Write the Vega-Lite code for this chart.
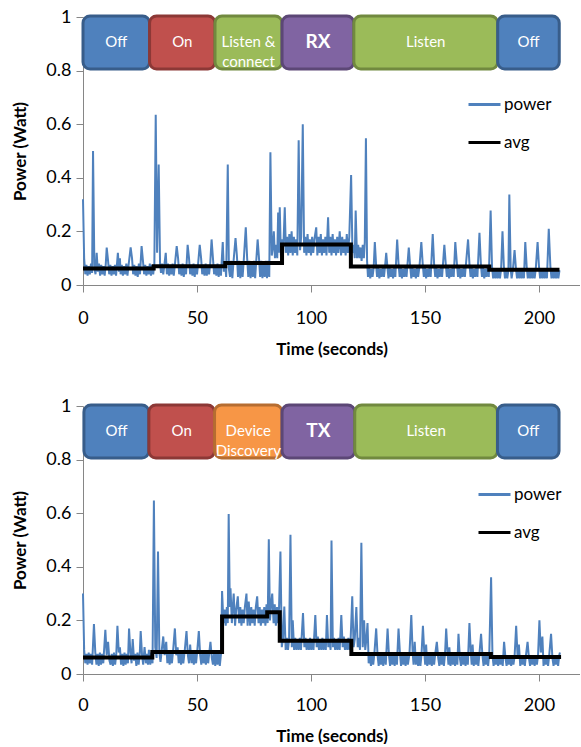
{
  "$schema": "https://vega.github.io/schema/vega-lite/v6.json",
  "padding": {"left": 11, "top": 8, "right": 0, "bottom": 0},
  "spacing": 40,
  "resolve": {"scale": {"color": "independent"}, "legend": {"color": "independent"}},
  "config": {
    "view": {"stroke": null},
    "font": "Lato",
    "axis": {"domainColor": "#868686", "tickColor": "#868686", "tickSize": 7, "labelFont": "Lato", "labelFontSize": 18, "labelColor": "#000000", "titleFont": "Lato", "titleFontSize": 17, "titleFontWeight": "bold", "titleColor": "#000000", "grid": false, "labelFlush": false}
  },
  "datasets": {
    "slave_power": [
      {"t":0,"p":0.32},{"t":0.5,"p":0.1},{"t":1,"p":0.04},{"t":1.5,"p":0.075},{"t":2,"p":0.035},{"t":2.5,"p":0.07},{"t":3,"p":0.04},{"t":3.5,"p":0.08},{"t":4,"p":0.045},{"t":4.4,"p":0.5},{"t":5,"p":0.06},{"t":5.5,"p":0.04},{"t":6,"p":0.12},{"t":6.5,"p":0.05},{"t":7,"p":0.08},{"t":7.5,"p":0.035},{"t":8,"p":0.075},{"t":8.5,"p":0.04},{"t":9,"p":0.07},{"t":9.5,"p":0.035},{"t":10,"p":0.08},{"t":10.4,"p":0.14},{"t":11,"p":0.09},{"t":11.5,"p":0.04},{"t":12,"p":0.075},{"t":12.5,"p":0.035},{"t":13,"p":0.07},{"t":13.5,"p":0.04},{"t":14,"p":0.075},{"t":14.5,"p":0.035},{"t":15.3,"p":0.12},{"t":15.8,"p":0.05},{"t":16.2,"p":0.1},{"t":16.5,"p":0.04},{"t":17,"p":0.075},{"t":17.5,"p":0.035},{"t":18,"p":0.07},{"t":18.5,"p":0.04},{"t":19,"p":0.08},{"t":19.5,"p":0.035},{"t":20,"p":0.075},{"t":20.9,"p":0.14},{"t":21.5,"p":0.1},{"t":22,"p":0.04},{"t":22.5,"p":0.075},{"t":23,"p":0.035},{"t":23.5,"p":0.07},{"t":24,"p":0.03},{"t":24.5,"p":0.08},{"t":25,"p":0.04},{"t":25.7,"p":0.145},{"t":26.3,"p":0.09},{"t":26.8,"p":0.04},{"t":27.3,"p":0.075},{"t":27.8,"p":0.035},{"t":28.3,"p":0.07},{"t":28.8,"p":0.04},{"t":29.3,"p":0.08},{"t":29.8,"p":0.035},{"t":30.3,"p":0.075},{"t":30.8,"p":0.04},{"t":31.3,"p":0.08},{"t":31.9,"p":0.635},{"t":32.5,"p":0.12},{"t":33.2,"p":0.45},{"t":33.8,"p":0.08},{"t":34.2,"p":0.045},{"t":34.7,"p":0.08},{"t":35.2,"p":0.04},{"t":35.7,"p":0.075},{"t":36.3,"p":0.12},{"t":36.8,"p":0.04},{"t":37.3,"p":0.08},{"t":37.8,"p":0.035},{"t":38.3,"p":0.075},{"t":38.8,"p":0.04},{"t":39.3,"p":0.08},{"t":39.8,"p":0.035},{"t":40.3,"p":0.075},{"t":41.1,"p":0.145},{"t":41.7,"p":0.1},{"t":42.2,"p":0.04},{"t":42.7,"p":0.075},{"t":43.2,"p":0.035},{"t":43.7,"p":0.08},{"t":44.2,"p":0.03},{"t":44.7,"p":0.075},{"t":45.2,"p":0.04},{"t":45.9,"p":0.15},{"t":46.5,"p":0.1},{"t":47,"p":0.04},{"t":47.5,"p":0.075},{"t":48,"p":0.035},{"t":48.5,"p":0.08},{"t":49,"p":0.03},{"t":49.5,"p":0.075},{"t":50,"p":0.04},{"t":50.5,"p":0.08},{"t":51.2,"p":0.15},{"t":51.8,"p":0.1},{"t":52.3,"p":0.04},{"t":52.8,"p":0.075},{"t":53.3,"p":0.035},{"t":53.8,"p":0.08},{"t":54.3,"p":0.035},{"t":54.8,"p":0.075},{"t":55.3,"p":0.04},{"t":55.8,"p":0.08},{"t":56.4,"p":0.17},{"t":57,"p":0.1},{"t":57.5,"p":0.04},{"t":58,"p":0.075},{"t":58.5,"p":0.035},{"t":59,"p":0.08},{"t":59.5,"p":0.03},{"t":60,"p":0.075},{"t":60.5,"p":0.035},{"t":61.3,"p":0.16},{"t":61.8,"p":0.05},{"t":62.3,"p":0.085},{"t":62.8,"p":0.03},{"t":63.5,"p":0.45},{"t":64,"p":0.06},{"t":64.5,"p":0.03},{"t":65,"p":0.09},{"t":65.5,"p":0.025},{"t":66,"p":0.085},{"t":66.9,"p":0.175},{"t":67.5,"p":0.11},{"t":68,"p":0.03},{"t":68.5,"p":0.09},{"t":69,"p":0.025},{"t":69.5,"p":0.085},{"t":70,"p":0.03},{"t":70.5,"p":0.09},{"t":71.4,"p":0.215},{"t":72,"p":0.1},{"t":72.5,"p":0.03},{"t":73,"p":0.09},{"t":73.5,"p":0.025},{"t":74,"p":0.085},{"t":74.5,"p":0.03},{"t":75,"p":0.09},{"t":75.5,"p":0.025},{"t":76.6,"p":0.17},{"t":77.2,"p":0.1},{"t":77.7,"p":0.03},{"t":78.2,"p":0.09},{"t":78.7,"p":0.025},{"t":79.2,"p":0.085},{"t":79.7,"p":0.03},{"t":80.2,"p":0.09},{"t":80.7,"p":0.025},{"t":81.2,"p":0.09},{"t":81.7,"p":0.03},{"t":82.2,"p":0.495},{"t":82.8,"p":0.11},{"t":83.3,"p":0.14},{"t":83.7,"p":0.2},{"t":84.2,"p":0.1},{"t":84.7,"p":0.15},{"t":85.2,"p":0.1},{"t":85.6,"p":0.27},{"t":86,"p":0.12},{"t":86.3,"p":0.29},{"t":86.8,"p":0.11},{"t":87.3,"p":0.17},{"t":87.8,"p":0.12},{"t":88.5,"p":0.29},{"t":89,"p":0.12},{"t":89.5,"p":0.18},{"t":90,"p":0.11},{"t":90.5,"p":0.19},{"t":91,"p":0.12},{"t":91.5,"p":0.2},{"t":92,"p":0.11},{"t":92.5,"p":0.18},{"t":93,"p":0.12},{"t":93.5,"p":0.17},{"t":94,"p":0.11},{"t":94.6,"p":0.54},{"t":95.2,"p":0.13},{"t":95.7,"p":0.18},{"t":96.4,"p":0.6},{"t":97,"p":0.12},{"t":97.5,"p":0.18},{"t":98,"p":0.11},{"t":98.5,"p":0.19},{"t":99,"p":0.12},{"t":99.5,"p":0.17},{"t":100,"p":0.11},{"t":100.5,"p":0.18},{"t":101,"p":0.12},{"t":101.5,"p":0.17},{"t":102.3,"p":0.215},{"t":102.8,"p":0.11},{"t":103.3,"p":0.18},{"t":103.8,"p":0.12},{"t":104.3,"p":0.19},{"t":104.8,"p":0.11},{"t":105.3,"p":0.17},{"t":105.8,"p":0.12},{"t":106.3,"p":0.18},{"t":106.8,"p":0.11},{"t":107.5,"p":0.253},{"t":108,"p":0.12},{"t":108.5,"p":0.18},{"t":109,"p":0.11},{"t":109.5,"p":0.19},{"t":110,"p":0.12},{"t":110.5,"p":0.17},{"t":111,"p":0.11},{"t":111.5,"p":0.18},{"t":112,"p":0.12},{"t":112.6,"p":0.2},{"t":113.2,"p":0.11},{"t":113.7,"p":0.18},{"t":114.2,"p":0.12},{"t":114.7,"p":0.17},{"t":115.2,"p":0.11},{"t":115.7,"p":0.19},{"t":116.2,"p":0.12},{"t":116.8,"p":0.18},{"t":117.6,"p":0.41},{"t":118.2,"p":0.12},{"t":118.7,"p":0.15},{"t":119.2,"p":0.1},{"t":119.6,"p":0.278},{"t":120.2,"p":0.1},{"t":120.7,"p":0.15},{"t":121.2,"p":0.1},{"t":121.7,"p":0.14},{"t":122.2,"p":0.09},{"t":122.7,"p":0.15},{"t":123.2,"p":0.1},{"t":123.6,"p":0.16},{"t":124.1,"p":0.548},{"t":124.6,"p":0.09},{"t":125,"p":0.03},{"t":125.5,"p":0.065},{"t":126,"p":0.025},{"t":126.5,"p":0.06},{"t":127,"p":0.03},{"t":127.5,"p":0.065},{"t":128,"p":0.16},{"t":128.6,"p":0.07},{"t":129,"p":0.03},{"t":129.5,"p":0.065},{"t":130,"p":0.025},{"t":130.5,"p":0.06},{"t":131,"p":0.03},{"t":131.5,"p":0.065},{"t":132,"p":0.03},{"t":132.5,"p":0.07},{"t":133,"p":0.12},{"t":133.6,"p":0.06},{"t":134,"p":0.025},{"t":134.5,"p":0.065},{"t":135,"p":0.03},{"t":135.5,"p":0.06},{"t":136,"p":0.025},{"t":136.5,"p":0.065},{"t":137,"p":0.03},{"t":137.8,"p":0.17},{"t":138.4,"p":0.08},{"t":138.9,"p":0.03},{"t":139.4,"p":0.065},{"t":139.9,"p":0.025},{"t":140.4,"p":0.06},{"t":140.9,"p":0.03},{"t":141.4,"p":0.065},{"t":141.9,"p":0.03},{"t":142.9,"p":0.14},{"t":143.5,"p":0.07},{"t":144,"p":0.025},{"t":144.5,"p":0.065},{"t":145,"p":0.03},{"t":145.5,"p":0.06},{"t":146,"p":0.025},{"t":146.5,"p":0.065},{"t":147,"p":0.03},{"t":147.6,"p":0.07},{"t":148.4,"p":0.16},{"t":149,"p":0.08},{"t":149.5,"p":0.03},{"t":150,"p":0.065},{"t":150.5,"p":0.025},{"t":151,"p":0.06},{"t":151.5,"p":0.03},{"t":152,"p":0.065},{"t":152.5,"p":0.03},{"t":153.4,"p":0.19},{"t":154,"p":0.08},{"t":154.5,"p":0.03},{"t":155,"p":0.065},{"t":155.5,"p":0.025},{"t":156,"p":0.06},{"t":156.5,"p":0.03},{"t":157,"p":0.065},{"t":157.5,"p":0.03},{"t":158.5,"p":0.15},{"t":159.1,"p":0.08},{"t":159.6,"p":0.03},{"t":160.1,"p":0.065},{"t":160.6,"p":0.025},{"t":161.1,"p":0.06},{"t":161.6,"p":0.03},{"t":162.1,"p":0.065},{"t":162.6,"p":0.03},{"t":163.3,"p":0.16},{"t":164,"p":0.08},{"t":164.5,"p":0.03},{"t":165,"p":0.065},{"t":165.5,"p":0.025},{"t":166,"p":0.06},{"t":166.5,"p":0.03},{"t":167,"p":0.065},{"t":167.5,"p":0.03},{"t":168.9,"p":0.17},{"t":169.5,"p":0.08},{"t":170,"p":0.03},{"t":170.5,"p":0.065},{"t":171,"p":0.025},{"t":171.5,"p":0.06},{"t":172,"p":0.03},{"t":172.5,"p":0.065},{"t":173,"p":0.03},{"t":173.9,"p":0.195},{"t":174.5,"p":0.08},{"t":175,"p":0.03},{"t":175.5,"p":0.065},{"t":176,"p":0.025},{"t":176.5,"p":0.06},{"t":177,"p":0.03},{"t":177.5,"p":0.065},{"t":178,"p":0.03},{"t":178.8,"p":0.278},{"t":179.4,"p":0.07},{"t":179.9,"p":0.025},{"t":180.4,"p":0.06},{"t":180.9,"p":0.025},{"t":181.4,"p":0.055},{"t":181.9,"p":0.025},{"t":182.4,"p":0.06},{"t":182.9,"p":0.025},{"t":183.4,"p":0.06},{"t":184,"p":0.2},{"t":184.6,"p":0.07},{"t":185.1,"p":0.025},{"t":185.6,"p":0.06},{"t":186.1,"p":0.025},{"t":186.6,"p":0.055},{"t":187,"p":0.338},{"t":187.6,"p":0.06},{"t":188,"p":0.025},{"t":188.6,"p":0.06},{"t":189.3,"p":0.13},{"t":189.9,"p":0.06},{"t":190.4,"p":0.025},{"t":190.9,"p":0.06},{"t":191.4,"p":0.025},{"t":191.9,"p":0.055},{"t":192.4,"p":0.025},{"t":192.9,"p":0.06},{"t":193.4,"p":0.025},{"t":194,"p":0.16},{"t":194.6,"p":0.07},{"t":195.1,"p":0.025},{"t":195.6,"p":0.06},{"t":196.1,"p":0.025},{"t":196.6,"p":0.055},{"t":197.1,"p":0.025},{"t":197.6,"p":0.06},{"t":198.1,"p":0.025},{"t":198.6,"p":0.06},{"t":199.4,"p":0.16},{"t":200,"p":0.07},{"t":200.5,"p":0.025},{"t":201,"p":0.06},{"t":201.5,"p":0.025},{"t":202,"p":0.055},{"t":202.5,"p":0.025},{"t":203,"p":0.06},{"t":203.5,"p":0.025},{"t":204.3,"p":0.21},{"t":205,"p":0.07},{"t":205.5,"p":0.025},{"t":206,"p":0.06},{"t":206.5,"p":0.025},{"t":207,"p":0.055},{"t":207.5,"p":0.025},{"t":208,"p":0.06},{"t":208.5,"p":0.025},{"t":209,"p":0.055}
    ],
    "slave_avg": [
      {"t":0,"a":0.062},{"t":31,"a":0.07},{"t":62.4,"a":0.082},{"t":87.3,"a":0.151},{"t":117.5,"a":0.069},{"t":178.2,"a":0.057},{"t":209,"a":0.057}
    ],
    "slave_states": [
      {"a":0,"b":29.2,"state":"Off","label":"Off"},
      {"a":29.2,"b":57.9,"state":"On","label":"On"},
      {"a":57.9,"b":87.3,"state":"Listen","label":"Listen &\nconnect"},
      {"a":87.3,"b":118.8,"state":"RX","label":"RX"},
      {"a":118.8,"b":181.9,"state":"Listen","label":"Listen"},
      {"a":181.9,"b":208.9,"state":"Off","label":"Off"}
    ],
    "master_power": [
      {"t":0,"p":0.3},{"t":0.5,"p":0.09},{"t":1,"p":0.04},{"t":1.5,"p":0.075},{"t":2,"p":0.035},{"t":2.5,"p":0.08},{"t":3,"p":0.04},{"t":3.5,"p":0.075},{"t":4,"p":0.035},{"t":4.8,"p":0.186},{"t":5.4,"p":0.08},{"t":5.9,"p":0.035},{"t":6.4,"p":0.075},{"t":6.9,"p":0.03},{"t":7.4,"p":0.08},{"t":7.9,"p":0.035},{"t":8.4,"p":0.075},{"t":8.9,"p":0.04},{"t":9.8,"p":0.165},{"t":10.4,"p":0.07},{"t":11,"p":0.12},{"t":11.6,"p":0.05},{"t":12.1,"p":0.035},{"t":12.6,"p":0.075},{"t":13.1,"p":0.03},{"t":13.6,"p":0.08},{"t":14.1,"p":0.035},{"t":14.6,"p":0.075},{"t":15.1,"p":0.18},{"t":15.7,"p":0.08},{"t":16.2,"p":0.1},{"t":16.7,"p":0.035},{"t":17.2,"p":0.075},{"t":17.7,"p":0.03},{"t":18.2,"p":0.08},{"t":18.7,"p":0.035},{"t":19.2,"p":0.075},{"t":19.7,"p":0.04},{"t":20.2,"p":0.17},{"t":20.8,"p":0.08},{"t":21.3,"p":0.04},{"t":21.8,"p":0.13},{"t":22.4,"p":0.05},{"t":22.9,"p":0.075},{"t":23.4,"p":0.03},{"t":23.9,"p":0.08},{"t":24.4,"p":0.035},{"t":24.9,"p":0.075},{"t":25.3,"p":0.16},{"t":25.9,"p":0.07},{"t":26.4,"p":0.035},{"t":27,"p":0.1},{"t":27.6,"p":0.04},{"t":28.1,"p":0.075},{"t":28.5,"p":0.035},{"t":28.9,"p":0.09},{"t":29.5,"p":0.035},{"t":30,"p":0.08},{"t":30.5,"p":0.04},{"t":31.1,"p":0.647},{"t":31.7,"p":0.1},{"t":32.3,"p":0.06},{"t":32.9,"p":0.457},{"t":33.5,"p":0.08},{"t":34,"p":0.045},{"t":34.5,"p":0.085},{"t":35.2,"p":0.14},{"t":35.8,"p":0.07},{"t":36.5,"p":0.12},{"t":37,"p":0.04},{"t":37.5,"p":0.085},{"t":38,"p":0.035},{"t":38.5,"p":0.08},{"t":39,"p":0.04},{"t":39.5,"p":0.085},{"t":40.3,"p":0.17},{"t":40.9,"p":0.07},{"t":41.5,"p":0.1},{"t":42,"p":0.04},{"t":42.5,"p":0.085},{"t":43,"p":0.035},{"t":43.5,"p":0.08},{"t":44,"p":0.04},{"t":44.6,"p":0.085},{"t":45.4,"p":0.16},{"t":46,"p":0.07},{"t":46.5,"p":0.04},{"t":47,"p":0.11},{"t":47.6,"p":0.04},{"t":48.1,"p":0.085},{"t":48.6,"p":0.035},{"t":49.1,"p":0.08},{"t":49.6,"p":0.04},{"t":50.1,"p":0.085},{"t":50.8,"p":0.16},{"t":51.4,"p":0.07},{"t":51.9,"p":0.035},{"t":52.4,"p":0.085},{"t":52.9,"p":0.04},{"t":53.4,"p":0.08},{"t":53.9,"p":0.035},{"t":54.4,"p":0.085},{"t":54.9,"p":0.04},{"t":55.9,"p":0.12},{"t":56.5,"p":0.06},{"t":57,"p":0.035},{"t":57.5,"p":0.085},{"t":58,"p":0.03},{"t":58.5,"p":0.08},{"t":59,"p":0.035},{"t":59.5,"p":0.085},{"t":60,"p":0.03},{"t":60.6,"p":0.08},{"t":61,"p":0.31},{"t":61.6,"p":0.19},{"t":62.1,"p":0.24},{"t":62.6,"p":0.18},{"t":63.1,"p":0.25},{"t":63.5,"p":0.19},{"t":63.9,"p":0.597},{"t":64.4,"p":0.25},{"t":64.7,"p":0.32},{"t":65.3,"p":0.19},{"t":65.7,"p":0.25},{"t":66.1,"p":0.3},{"t":66.7,"p":0.18},{"t":67.2,"p":0.24},{"t":67.9,"p":0.29},{"t":68.5,"p":0.19},{"t":69,"p":0.25},{"t":69.5,"p":0.18},{"t":70,"p":0.24},{"t":70.5,"p":0.19},{"t":71,"p":0.25},{"t":71.7,"p":0.3},{"t":72.2,"p":0.18},{"t":72.7,"p":0.27},{"t":73.3,"p":0.18},{"t":73.8,"p":0.25},{"t":74.3,"p":0.19},{"t":74.8,"p":0.24},{"t":75.3,"p":0.18},{"t":75.8,"p":0.25},{"t":76.4,"p":0.29},{"t":77,"p":0.19},{"t":77.5,"p":0.25},{"t":78,"p":0.18},{"t":78.5,"p":0.24},{"t":79,"p":0.19},{"t":79.5,"p":0.25},{"t":80,"p":0.18},{"t":80.5,"p":0.26},{"t":81,"p":0.19},{"t":81.5,"p":0.503},{"t":82,"p":0.2},{"t":82.5,"p":0.26},{"t":83,"p":0.3},{"t":83.6,"p":0.19},{"t":84.1,"p":0.26},{"t":84.6,"p":0.18},{"t":85.1,"p":0.25},{"t":85.6,"p":0.19},{"t":86,"p":0.25},{"t":86.6,"p":0.457},{"t":87.2,"p":0.1},{"t":87.7,"p":0.13},{"t":88.3,"p":0.252},{"t":88.9,"p":0.09},{"t":89.4,"p":0.135},{"t":89.9,"p":0.09},{"t":90.4,"p":0.13},{"t":91,"p":0.52},{"t":91.6,"p":0.1},{"t":92,"p":0.2},{"t":92.6,"p":0.09},{"t":93.1,"p":0.135},{"t":93.6,"p":0.09},{"t":94.1,"p":0.13},{"t":94.6,"p":0.09},{"t":95.1,"p":0.135},{"t":95.6,"p":0.09},{"t":96.5,"p":0.227},{"t":97.1,"p":0.1},{"t":97.6,"p":0.135},{"t":98.1,"p":0.09},{"t":98.6,"p":0.13},{"t":99.1,"p":0.09},{"t":99.6,"p":0.135},{"t":100.1,"p":0.09},{"t":100.6,"p":0.13},{"t":101.1,"p":0.09},{"t":101.9,"p":0.22},{"t":102.5,"p":0.1},{"t":103,"p":0.14},{"t":103.5,"p":0.09},{"t":104,"p":0.13},{"t":104.5,"p":0.09},{"t":105,"p":0.135},{"t":105.5,"p":0.09},{"t":106,"p":0.13},{"t":106.5,"p":0.09},{"t":107,"p":0.22},{"t":107.6,"p":0.1},{"t":108.1,"p":0.13},{"t":108.6,"p":0.09},{"t":109,"p":0.498},{"t":109.6,"p":0.1},{"t":110.1,"p":0.135},{"t":110.6,"p":0.09},{"t":111.1,"p":0.13},{"t":111.6,"p":0.09},{"t":112.1,"p":0.135},{"t":112.6,"p":0.09},{"t":113.3,"p":0.22},{"t":113.9,"p":0.1},{"t":114.4,"p":0.14},{"t":114.9,"p":0.09},{"t":115.4,"p":0.13},{"t":115.9,"p":0.09},{"t":116.4,"p":0.135},{"t":116.9,"p":0.09},{"t":117.4,"p":0.13},{"t":118.1,"p":0.29},{"t":118.7,"p":0.1},{"t":119.2,"p":0.13},{"t":119.9,"p":0.25},{"t":120.5,"p":0.1},{"t":121,"p":0.135},{"t":121.5,"p":0.09},{"t":122.1,"p":0.49},{"t":122.7,"p":0.1},{"t":123.3,"p":0.2},{"t":123.8,"p":0.09},{"t":124.3,"p":0.13},{"t":124.8,"p":0.19},{"t":125.3,"p":0.04},{"t":125.8,"p":0.075},{"t":126.3,"p":0.03},{"t":126.8,"p":0.07},{"t":127.3,"p":0.035},{"t":127.8,"p":0.075},{"t":128.6,"p":0.17},{"t":129.2,"p":0.07},{"t":129.7,"p":0.03},{"t":130.2,"p":0.075},{"t":130.7,"p":0.035},{"t":131.2,"p":0.07},{"t":131.7,"p":0.03},{"t":132.2,"p":0.075},{"t":132.8,"p":0.035},{"t":133.6,"p":0.17},{"t":134.2,"p":0.07},{"t":134.7,"p":0.03},{"t":135.2,"p":0.075},{"t":135.7,"p":0.035},{"t":136.2,"p":0.07},{"t":136.7,"p":0.03},{"t":137.2,"p":0.075},{"t":137.7,"p":0.035},{"t":138.4,"p":0.17},{"t":139,"p":0.08},{"t":139.5,"p":0.03},{"t":140,"p":0.075},{"t":140.5,"p":0.035},{"t":141,"p":0.07},{"t":141.5,"p":0.03},{"t":142,"p":0.075},{"t":142.5,"p":0.035},{"t":143.2,"p":0.075},{"t":144,"p":0.22},{"t":144.6,"p":0.08},{"t":145,"p":0.035},{"t":145.5,"p":0.12},{"t":146,"p":0.035},{"t":146.5,"p":0.075},{"t":147,"p":0.03},{"t":147.5,"p":0.07},{"t":148,"p":0.03},{"t":148.5,"p":0.075},{"t":149.1,"p":0.18},{"t":149.7,"p":0.08},{"t":150.1,"p":0.035},{"t":150.5,"p":0.11},{"t":151,"p":0.03},{"t":151.5,"p":0.075},{"t":152,"p":0.035},{"t":152.5,"p":0.07},{"t":153,"p":0.03},{"t":153.5,"p":0.075},{"t":154,"p":0.035},{"t":154.5,"p":0.075},{"t":155.2,"p":0.12},{"t":155.8,"p":0.06},{"t":156.3,"p":0.03},{"t":156.8,"p":0.075},{"t":157.3,"p":0.035},{"t":157.8,"p":0.07},{"t":158.3,"p":0.03},{"t":158.8,"p":0.075},{"t":159.3,"p":0.17},{"t":159.9,"p":0.08},{"t":160.3,"p":0.035},{"t":160.7,"p":0.1},{"t":161.2,"p":0.03},{"t":161.7,"p":0.075},{"t":162.2,"p":0.035},{"t":162.7,"p":0.07},{"t":163.2,"p":0.03},{"t":163.7,"p":0.075},{"t":164.2,"p":0.035},{"t":164.7,"p":0.15},{"t":165.3,"p":0.06},{"t":165.8,"p":0.03},{"t":166.3,"p":0.075},{"t":166.8,"p":0.035},{"t":167.3,"p":0.07},{"t":167.8,"p":0.03},{"t":168.3,"p":0.075},{"t":168.8,"p":0.035},{"t":169.5,"p":0.19},{"t":170.1,"p":0.08},{"t":170.5,"p":0.035},{"t":170.9,"p":0.11},{"t":171.4,"p":0.03},{"t":171.9,"p":0.075},{"t":172.4,"p":0.035},{"t":172.9,"p":0.07},{"t":173.4,"p":0.03},{"t":173.9,"p":0.075},{"t":174.6,"p":0.15},{"t":175.2,"p":0.07},{"t":175.7,"p":0.03},{"t":176.2,"p":0.075},{"t":176.7,"p":0.035},{"t":177.2,"p":0.07},{"t":177.7,"p":0.03},{"t":178.2,"p":0.075},{"t":179,"p":0.361},{"t":179.6,"p":0.07},{"t":180.1,"p":0.03},{"t":180.6,"p":0.07},{"t":181.1,"p":0.035},{"t":181.6,"p":0.065},{"t":182.1,"p":0.03},{"t":182.6,"p":0.07},{"t":183.1,"p":0.035},{"t":183.6,"p":0.065},{"t":184.1,"p":0.03},{"t":184.7,"p":0.12},{"t":185.3,"p":0.06},{"t":185.8,"p":0.03},{"t":186.3,"p":0.07},{"t":186.8,"p":0.035},{"t":187.3,"p":0.065},{"t":187.8,"p":0.03},{"t":188.3,"p":0.07},{"t":188.8,"p":0.035},{"t":189.3,"p":0.065},{"t":190,"p":0.18},{"t":190.6,"p":0.07},{"t":191.2,"p":0.11},{"t":191.8,"p":0.03},{"t":192.3,"p":0.07},{"t":192.8,"p":0.035},{"t":193.3,"p":0.065},{"t":193.8,"p":0.03},{"t":194.3,"p":0.07},{"t":195,"p":0.12},{"t":195.6,"p":0.06},{"t":196.1,"p":0.03},{"t":196.6,"p":0.07},{"t":197.1,"p":0.035},{"t":197.6,"p":0.065},{"t":198.1,"p":0.03},{"t":198.6,"p":0.07},{"t":199.1,"p":0.035},{"t":199.6,"p":0.07},{"t":200.2,"p":0.2},{"t":200.8,"p":0.08},{"t":201.5,"p":0.14},{"t":202,"p":0.03},{"t":202.5,"p":0.07},{"t":203,"p":0.035},{"t":203.5,"p":0.065},{"t":204,"p":0.03},{"t":204.5,"p":0.07},{"t":205.3,"p":0.15},{"t":205.9,"p":0.06},{"t":206.4,"p":0.03},{"t":206.9,"p":0.07},{"t":207.4,"p":0.035},{"t":207.9,"p":0.065},{"t":208.4,"p":0.03},{"t":208.9,"p":0.07},{"t":209.2,"p":0.08}
    ],
    "master_avg": [
      {"t":0,"a":0.062},{"t":30.4,"a":0.082},{"t":61,"a":0.215},{"t":80.8,"a":0.23},{"t":86.3,"a":0.124},{"t":117.7,"a":0.0745},{"t":178.9,"a":0.063},{"t":209.7,"a":0.063}
    ],
    "master_states": [
      {"a":0.4,"b":28.9,"state":"Off","label":"Off"},
      {"a":28.9,"b":57.7,"state":"On","label":"On"},
      {"a":57.7,"b":87.3,"state":"Device Discovery","label":"Device\nDiscovery"},
      {"a":87.3,"b":119.2,"state":"TX","label":"TX"},
      {"a":119.2,"b":181.8,"state":"Listen","label":"Listen"},
      {"a":181.8,"b":208.8,"state":"Off","label":"Off"}
    ]
  },
  "vconcat": [
    {
      "width": 497,
      "height": 268,
      "layer": [
        {
          "data": {"name": "slave_power"},
          "mark": {"type": "line", "strokeWidth": 2},
          "encoding": {
            "x": {"field": "t", "type": "quantitative", "scale": {"domain": [0, 218], "nice": false}, "axis": {"values": [0, 50, 100, 150, 200], "format": "d", "labelPadding": 17, "titlePadding": 14, "title": "Time (seconds)"}},
            "y": {"field": "p", "type": "quantitative", "scale": {"domain": [0, 1], "nice": false}, "axis": {"values": [0, 0.2, 0.4, 0.6, 0.8, 1], "format": ".1~f", "labelPadding": 5, "titlePadding": 16, "title": "Power (Watt)"}},
            "color": {"datum": "power", "scale": {"domain": ["power", "avg"], "range": ["#4f81bd", "#000000"]}, "legend": {"title": null, "orient": "none", "legendX": 384, "legendY": 70, "symbolType": "stroke", "symbolSize": 1024, "symbolStrokeWidth": 3, "labelFontSize": 17, "labelFont": "Lato", "labelColor": "#000000", "rowPadding": 12, "labelOffset": 2}}
          }
        },
        {
          "data": {"name": "slave_avg"},
          "mark": {"type": "line", "strokeWidth": 4, "interpolate": "step-after"},
          "encoding": {
            "x": {"field": "t", "type": "quantitative"},
            "y": {"field": "a", "type": "quantitative"},
            "color": {"datum": "avg"}
          }
        },
        {
          "data": {"name": "slave_states"},
          "mark": {"type": "rect", "cornerRadius": 7, "strokeWidth": 3},
          "encoding": {
            "x": {"field": "a", "type": "quantitative"},
            "x2": {"field": "b"},
            "y": {"datum": 0.806},
            "y2": {"datum": 1.004},
            "fill": {"field": "state", "type": "nominal", "scale": {"domain": ["Off", "On", "Listen", "RX", "TX", "Device Discovery"], "range": ["#4f81bd", "#c0504d", "#9bbb59", "#8064a2", "#8064a2", "#f79646"]}, "legend": null},
            "stroke": {"field": "state", "type": "nominal", "scale": {"domain": ["Off", "On", "Listen", "RX", "TX", "Device Discovery"], "range": ["#385d8a", "#8c3836", "#71893f", "#5c4776", "#5c4776", "#b66d31"]}, "legend": null}
          }
        },
        {
          "data": {"name": "slave_states"},
          "transform": [{"filter": "datum.label != 'RX' && datum.label != 'TX'"}, {"calculate": "(datum.a + datum.b) / 2", "as": "m"}],
          "mark": {"type": "text", "color": "#ffffff", "fontSize": 15, "lineBreak": "\n", "lineHeight": 20, "font": "Lato"},
          "encoding": {
            "x": {"field": "m", "type": "quantitative"},
            "y": {"datum": 0.905},
            "text": {"field": "label"}
          }
        },
        {
          "data": {"name": "slave_states"},
          "transform": [{"filter": "datum.label == 'RX' || datum.label == 'TX'"}, {"calculate": "(datum.a + datum.b) / 2", "as": "m"}],
          "mark": {"type": "text", "color": "#ffffff", "fontSize": 19, "fontWeight": "bold", "font": "Lato"},
          "encoding": {
            "x": {"field": "m", "type": "quantitative"},
            "y": {"datum": 0.905},
            "text": {"field": "label"}
          }
        },
        {
          "mark": {"type": "text", "text": "Bluetooth Slave", "fontSize": 21, "fontWeight": "bold", "align": "left", "baseline": "middle", "font": "Lato", "color": "#000000"},
          "encoding": {
            "x": {"datum": 1.6},
            "y": {"datum": 0.69}
          }
        }
      ]
    },
    {
      "width": 497,
      "height": 268,
      "layer": [
        {
          "data": {"name": "master_power"},
          "mark": {"type": "line", "strokeWidth": 2},
          "encoding": {
            "x": {"field": "t", "type": "quantitative", "scale": {"domain": [0, 218], "nice": false}, "axis": {"values": [0, 50, 100, 150, 200], "format": "d", "labelPadding": 15, "titlePadding": 14, "title": "Time (seconds)"}},
            "y": {"field": "p", "type": "quantitative", "scale": {"domain": [0, 1], "nice": false}, "axis": {"values": [0, 0.2, 0.4, 0.6, 0.8, 1], "format": ".1~f", "labelPadding": 5, "titlePadding": 16, "title": "Power (Watt)"}},
            "color": {"datum": "power", "scale": {"domain": ["power", "avg"], "range": ["#4f81bd", "#000000"]}, "legend": {"title": null, "orient": "none", "legendX": 394, "legendY": 71, "symbolType": "stroke", "symbolSize": 1024, "symbolStrokeWidth": 3, "labelFontSize": 17, "labelFont": "Lato", "labelColor": "#000000", "rowPadding": 12, "labelOffset": 2}}
          }
        },
        {
          "data": {"name": "master_avg"},
          "mark": {"type": "line", "strokeWidth": 4, "interpolate": "step-after"},
          "encoding": {
            "x": {"field": "t", "type": "quantitative"},
            "y": {"field": "a", "type": "quantitative"},
            "color": {"datum": "avg"}
          }
        },
        {
          "data": {"name": "master_states"},
          "mark": {"type": "rect", "cornerRadius": 7, "strokeWidth": 3},
          "encoding": {
            "x": {"field": "a", "type": "quantitative"},
            "x2": {"field": "b"},
            "y": {"datum": 0.806},
            "y2": {"datum": 1.004},
            "fill": {"field": "state", "type": "nominal", "scale": {"domain": ["Off", "On", "Listen", "RX", "TX", "Device Discovery"], "range": ["#4f81bd", "#c0504d", "#9bbb59", "#8064a2", "#8064a2", "#f79646"]}, "legend": null},
            "stroke": {"field": "state", "type": "nominal", "scale": {"domain": ["Off", "On", "Listen", "RX", "TX", "Device Discovery"], "range": ["#385d8a", "#8c3836", "#71893f", "#5c4776", "#5c4776", "#b66d31"]}, "legend": null}
          }
        },
        {
          "data": {"name": "master_states"},
          "transform": [{"filter": "datum.label != 'RX' && datum.label != 'TX'"}, {"calculate": "(datum.a + datum.b) / 2", "as": "m"}],
          "mark": {"type": "text", "color": "#ffffff", "fontSize": 15, "lineBreak": "\n", "lineHeight": 20, "font": "Lato"},
          "encoding": {
            "x": {"field": "m", "type": "quantitative"},
            "y": {"datum": 0.905},
            "text": {"field": "label"}
          }
        },
        {
          "data": {"name": "master_states"},
          "transform": [{"filter": "datum.label == 'RX' || datum.label == 'TX'"}, {"calculate": "(datum.a + datum.b) / 2", "as": "m"}],
          "mark": {"type": "text", "color": "#ffffff", "fontSize": 19, "fontWeight": "bold", "font": "Lato"},
          "encoding": {
            "x": {"field": "m", "type": "quantitative"},
            "y": {"datum": 0.905},
            "text": {"field": "label"}
          }
        },
        {
          "mark": {"type": "text", "text": "Bluetooth Master", "fontSize": 21, "fontWeight": "bold", "align": "left", "baseline": "middle", "font": "Lato", "color": "#000000"},
          "encoding": {
            "x": {"datum": 1.6},
            "y": {"datum": 0.686}
          }
        }
      ]
    }
  ]
}
